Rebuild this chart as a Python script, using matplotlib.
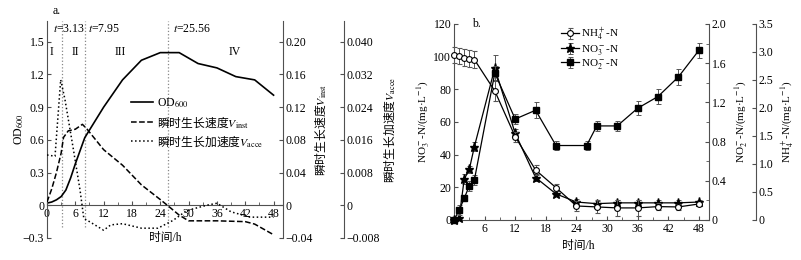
import numpy as np
import matplotlib
matplotlib.use("Agg")
import matplotlib.pyplot as plt
from matplotlib.ticker import MultipleLocator

plt.rcParams['font.family'] = ['Liberation Serif', 'Noto Sans CJK SC']
plt.rcParams['mathtext.fontset'] = 'stix'
plt.rcParams['font.size'] = 8.5
plt.rcParams['axes.unicode_minus'] = True
CJK = 'Noto Sans CJK SC'

# ---------------- panel a data ----------------
t_od = [0, 1, 2, 3, 4, 5, 6, 8, 12, 16, 20, 24, 28, 32, 36, 40, 44, 48]
od600 = [0.02, 0.03, 0.05, 0.08, 0.14, 0.25, 0.38, 0.62, 0.90, 1.15, 1.33, 1.40, 1.40, 1.30, 1.26, 1.18, 1.15, 1.01]

t_inst = [0, 1, 2, 3, 3.5, 4.5, 6, 7.5, 8.5, 12, 16, 20, 24, 25.5, 28, 30, 36, 42, 44, 48]
v_inst = [0.004, 0.020, 0.040, 0.064, 0.083, 0.091, 0.093, 0.099, 0.093, 0.068, 0.049, 0.025, 0.007, 0.0,
          -0.012, -0.019, -0.019, -0.020, -0.023, -0.036]

t_acce = [0, 1.7, 2.9, 3.8, 5.6, 7, 7.8, 9, 12, 13.5, 16, 20, 23.5, 26.7, 29.6, 33.8, 36, 39, 43, 48]
v_acce = [0.0123, 0.0120, 0.0307, 0.0259, 0.0136, 0.0037, -0.0032, -0.0040, -0.0061, -0.0048, -0.0045,
          -0.0056, -0.0056, -0.0037, -0.0013, 0.0, 0.0005, -0.0016, -0.0029, -0.0029]

t_phase = [3.13, 7.95, 25.56]
phase_names = ['I', 'II', 'III', 'IV']
phase_x = [1.0, 6.1, 15.5, 39.8]

# ---------------- panel b data ----------------
t_b = [0, 1, 2, 3, 4, 8, 12, 16, 20, 24, 28, 32, 36, 40, 44, 48]
nh4 = [101, 100.6, 99.4, 98.8, 98.2, 79, 51, 30.6, 19.8, 8.6, 8.0, 7.4, 7.4, 8.2, 8.0, 9.8]
nh4_err = [5, 5, 5, 5, 5, 6, 3, 3, 2, 3, 4, 5, 5, 2, 2, 1]
no3 = [0, 1, 25, 31, 45, 93, 53, 26, 16, 11, 10, 10.5, 10.5, 10.5, 10.5, 11]
no3_err = [0, 1, 3, 2, 3, 8, 3, 2, 1.5, 2, 1.5, 1.5, 1.5, 1.5, 1.5, 1.5]
t_no2 = [0, 1, 2, 3, 4, 8, 12, 16, 20, 26, 28, 32, 36, 40, 44, 48]
no2 = [0.0, 0.10, 0.22, 0.35, 0.41, 1.50, 1.03, 1.12, 0.76, 0.76, 0.96, 0.96, 1.14, 1.26, 1.46, 1.73]
no2_err = [0.0, 0.05, 0.03, 0.05, 0.05, 0.07, 0.05, 0.08, 0.05, 0.05, 0.05, 0.05, 0.07, 0.08, 0.08, 0.08]

spine_c = '#505050'

fig = plt.figure(figsize=(8.01, 2.6), dpi=100)

# ================= panel a =================
ax = fig.add_axes([47 / 801, 22 / 260, 236 / 801, 217 / 260])
ax.set_xlim(0, 50)
ax.set_ylim(-0.3, 1.69)
ax.spines['top'].set_visible(False)
ax.spines['right'].set_visible(False)
ax.spines['bottom'].set_position(('data', 0))
for s in ax.spines.values():
    s.set_color(spine_c)
ax.set_xticks(range(0, 49, 6))
ax.xaxis.set_minor_locator(MultipleLocator(3))
ax.set_yticks([-0.3, 0, 0.3, 0.6, 0.9, 1.2, 1.5])
ax.set_yticklabels(['\u22120.3', '0', '0.3', '0.6', '0.9', '1.2', '1.5'])
ax.tick_params(direction='in', length=3, color=spine_c, pad=2)
ax.tick_params(which='minor', direction='in', length=2, color=spine_c)

for tp in t_phase:
    ax.vlines(tp, -0.2, 1.69, colors='#888888', linestyles=':', linewidth=0.9)

l1, = ax.plot(t_od, od600, 'k-', linewidth=1.2, label='OD$_{600}$')

ax2 = ax.twinx()
ax2.set_ylim(-0.04, 1.69 * 0.04 / 0.3)
l2, = ax2.plot(t_inst, v_inst, 'k--', linewidth=1.1, label='瞬时生长速度$V_{\\rm inst}$')
ax3 = ax.twinx()
ax3.set_ylim(-0.008, 1.69 * 0.008 / 0.3)
l3, = ax3.plot(t_acce, v_acce, 'k:', linewidth=1.1, label='瞬时生长加速度$V_{\\rm acce}$')
ax3.spines['right'].set_position(('outward', 61 * 0.72))

for a in (ax2, ax3):
    for k in ('top', 'bottom', 'left'):
        a.spines[k].set_visible(False)
    a.spines['right'].set_color(spine_c)
    a.tick_params(direction='in', length=3, color=spine_c, pad=2)
ax2.set_yticks([-0.04, 0, 0.04, 0.08, 0.12, 0.16, 0.20])
ax2.set_yticklabels(['\u22120.04', '0', '0.04', '0.08', '0.12', '0.16', '0.20'])
ax3.set_yticks([-0.008, 0, 0.008, 0.016, 0.024, 0.032, 0.040])
ax3.set_yticklabels(['\u22120.008', '0', '0.008', '0.016', '0.024', '0.032', '0.040'])

ax.set_ylabel('OD$_{600}$')
ax.yaxis.set_label_coords(-0.09, 0.5)
ax2.set_ylabel('瞬时生长速度$V_{\\rm inst}$', fontfamily=CJK, fontsize=8.5)
ax2.yaxis.set_label_coords(1.125, 0.5)
ax3.set_ylabel('瞬时生长加速度$V_{\\rm acce}$', fontfamily=CJK, fontsize=8.5)
ax3.yaxis.set_label_coords(1.415, 0.5)
ax.text(0.5, 0.0, '时间/h', transform=ax.transAxes, ha='center', va='center')

ax.text(1.3, 1.62, '$t$=3.13', ha='left', va='center')
ax.text(8.7, 1.62, '$t$=7.95', ha='left', va='center')
ax.text(26.7, 1.62, '$t$=25.56', ha='left', va='center')
for name, px in zip(phase_names, phase_x):
    ax.text(px, 1.41, name, ha='center', va='center')
ax.text(1.2, 1.78, 'a.', ha='left', va='center')

leg = ax3.legend(handles=[l1, l2, l3], loc='upper left', bbox_to_anchor=(0.32, 0.69),
                 frameon=False, handlelength=1.9, handletextpad=0.3, labelspacing=0.3,
                 borderpad=0.2)
for txt in leg.get_texts()[1:]:
    txt.set_fontfamily(CJK)

# ================= panel b =================
bx = fig.add_axes([454 / 801, 40 / 260, 255 / 801, 196 / 260])
bx.set_xlim(0, 50)
bx.set_ylim(0, 120)
bx.spines['top'].set_visible(False)
bx.spines['right'].set_visible(False)
for s in bx.spines.values():
    s.set_color(spine_c)
bx.set_xticks(range(6, 49, 6))
bx.xaxis.set_minor_locator(MultipleLocator(3))
bx.set_yticks(range(0, 121, 20))
bx.tick_params(direction='in', length=3, color=spine_c, pad=2)
bx.tick_params(which='minor', direction='in', length=2, color=spine_c)

bx2 = bx.twinx()
bx2.set_ylim(0, 2.0)
bx3 = bx.twinx()
bx3.set_ylim(0, 3.5)
bx3.spines['right'].set_position(('outward', 47 * 0.72))
for a in (bx2, bx3):
    for k in ('top', 'bottom', 'left'):
        a.spines[k].set_visible(False)
    a.spines['right'].set_color(spine_c)
    a.tick_params(direction='in', length=3, color=spine_c, pad=2)
bx2.set_yticks([0, 0.4, 0.8, 1.2, 1.6, 2.0])
bx2.set_yticklabels(['0', '0.4', '0.8', '1.2', '1.6', '2.0'])
bx2.yaxis.set_minor_locator(MultipleLocator(0.2))
bx2.tick_params(which='minor', direction='in', length=2, color=spine_c)
bx3.set_yticks([0, 0.5, 1.0, 1.5, 2.0, 2.5, 3.0, 3.5])
bx3.set_yticklabels(['0', '0.5', '1.0', '1.5', '2.0', '2.5', '3.0', '3.5'])

eb = dict(ecolor='#555555', elinewidth=0.7, capsize=1.8, capthick=0.7, linewidth=0.9, color='k', clip_on=False)
h_no2 = bx2.errorbar(t_no2, no2, yerr=no2_err, marker='s', markersize=4, mfc='k', mec='k',
                     label='NO$_2^-$-N', zorder=3, **eb)
h_no3 = bx.errorbar(t_b, no3, yerr=no3_err, marker='*', markersize=6.5, mfc='k', mec='k',
                    label='NO$_3^-$-N', zorder=3, **eb)
h_nh4 = bx.errorbar(t_b, nh4, yerr=nh4_err, marker='o', markersize=4.2, mfc='white', mec='k',
                    mew=0.8, label='NH$_4^+$-N', zorder=4, **eb)

bx.set_ylabel('NO$_3^-$-N/(mg·L$^{-1}$)', fontsize=8)
bx.yaxis.set_label_coords(-0.085, 0.5)
bx2.set_ylabel('NO$_2^-$-N/(mg·L$^{-1}$)', fontsize=8)
bx2.yaxis.set_label_coords(1.095, 0.5)
bx3.set_ylabel('NH$_4^+$-N/(mg·L$^{-1}$)', fontsize=8)
bx3.yaxis.set_label_coords(1.275, 0.5)
bx.text(0.486, -0.133, '时间/h', transform=bx.transAxes, ha='center', va='center')
bx.text(3.6, 120, 'b.', ha='left', va='center')

bx3.legend(handles=[h_nh4, h_no3, h_no2], loc='upper left', bbox_to_anchor=(0.39, 1.03),
           frameon=False, handlelength=1.6, handletextpad=0.2, labelspacing=0.0,
           borderpad=0.2, fontsize=8)

fig.savefig('out.png', dpi=100)
